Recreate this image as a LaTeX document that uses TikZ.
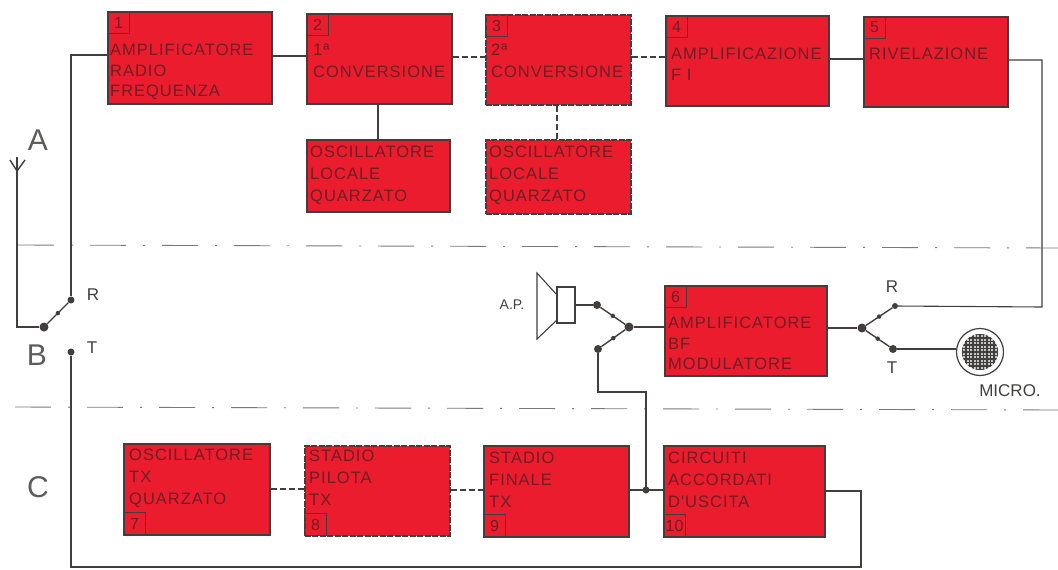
\documentclass[tikz,border=0pt]{standalone}
\usepackage{fontspec}
\setmainfont{Liberation Sans}
\newfontfamily\blockfont[LetterSpace=6]{Liberation Sans}
\usetikzlibrary{calc}
\definecolor{blockred}{RGB}{234,28,46}
\definecolor{inkgrey}{RGB}{66,62,62}
\definecolor{blockink}{RGB}{110,30,36}
\tikzset{
  block/.style={draw=inkgrey,line width=1.5pt,fill=blockred,anchor=north west,inner sep=0pt},
  dashblock/.style={block,dash pattern=on 6pt off 1.5pt},
  blocktext/.style={anchor=north west,inner sep=0pt,align=left,text=blockink,font=\blockfont\fontsize{16.5}{20.5}\selectfont},
  tallblocktext/.style={blocktext,font=\blockfont\fontsize{16.5}{22}\selectfont},
  numbox/.style={draw=inkgrey,line width=1.1pt,minimum width=22pt,minimum height=22pt,inner sep=0pt,anchor=north west,text=blockink,font=\fontsize{16}{16}\selectfont},
  wire/.style={draw=inkgrey,line width=1.1pt},
  dashwire/.style={wire,dash pattern=on 6pt off 3pt},
  contact/.style={circle,fill=inkgrey,minimum size=8pt,inner sep=0pt},
  blob/.style={circle,fill=inkgrey,minimum size=4.5pt,inner sep=0pt},
  arm/.style={draw=inkgrey,line width=1.4pt},
  zoneline/.style={draw=inkgrey!70,line width=.9pt,dash pattern=on 36pt off 17pt on 2pt off 17pt},
  zonelabel/.style={text=inkgrey!85,font=\fontsize{30}{30}\selectfont,inner sep=0pt},
  smalllabel/.style={text=inkgrey,font=\fontsize{17}{17}\selectfont,inner sep=0pt}
}
\begin{document}
\begin{tikzpicture}[x=1pt,y=-1pt]
    \useasboundingbox (0,0) rectangle (1058,570);
    % zone lines
    \draw[zoneline] (18,245) -- (1058,248);
    \draw[zoneline] (15,407) -- (1058,410);
    \node[zonelabel] (zonea) at (38,140) {A};
    \node[zonelabel] (zoneb) at (37,355) {B};
    \node[zonelabel] (zonec) at (38,487) {C};
    % receiver row
    \node[block,minimum width=164pt,minimum height=92pt] (radio) at (107,11) {};
    \node[block,minimum width=145pt,minimum height=90pt] (conva) at (306,13) {};
    \node[dashblock,minimum width=145pt,minimum height=90pt] (convb) at (485,14) {};
    \node[block,minimum width=163pt,minimum height=90pt] (ampfi) at (665,15) {};
    \node[block,minimum width=144pt,minimum height=90pt] (rivel) at (863,16) {};
    \node[block,minimum width=143pt,minimum height=72pt] (oscb) at (306,139) {};
    \node[dashblock,minimum width=145pt,minimum height=74pt] (oscc) at (485,139) {};
    % audio block
    \node[block,minimum width=162pt,minimum height=90pt] (ampbf) at (664,285) {};
    % transmitter row
    \node[block,minimum width=146pt,minimum height=91pt] (osctx) at (123,443) {};
    \node[dashblock,minimum width=145pt,minimum height=90pt] (pilota) at (304,445) {};
    \node[block,minimum width=145pt,minimum height=91pt] (finale) at (483,445) {};
    \node[block,minimum width=161pt,minimum height=91pt] (uscita) at (663,445) {};
    % numbers
    \node[numbox] (numa) at (107,11) {1};
    \node[numbox] (numb) at (306,13) {2};
    \node[numbox] (numc) at (485,14) {3};
    \node[numbox] (numd) at (665,15) {4};
    \node[numbox] (nume) at (863,16) {5};
    \node[numbox] (numf) at (664,285) {6};
    \node[numbox] (numg) at (123,512) {7};
    \node[numbox] (numh) at (304,513) {8};
    \node[numbox] (numi) at (483,514) {9};
    \node[numbox] (numj) at (663,514) {10};
    % block texts
    \node[blocktext] (radiotext) at (110,44) {AMPLIFICATORE\\RADIO\\FREQUENZA};
    \node[tallblocktext] (convatext) at (313,44) {1ª\\CONVERSIONE};
    \node[tallblocktext] (convbtext) at (491,44) {2ª\\CONVERSIONE};
    \node[blocktext] (ampfitext) at (671,48) {AMPLIFICAZIONE\\F I};
    \node[blocktext] (riveltext) at (869,48) {RIVELAZIONE};
    \node[tallblocktext] (oscbtext) at (310,146) {OSCILLATORE\\LOCALE\\QUARZATO};
    \node[tallblocktext] (oscctext) at (489,146) {OSCILLATORE\\LOCALE\\QUARZATO};
    \node[blocktext] (ampbftext) at (668,317) {AMPLIFICATORE\\BF\\MODULATORE};
    \node[tallblocktext] (osctxtext) at (129,449) {OSCILLATORE\\TX\\QUARZATO};
    \node[tallblocktext] (pilotatext) at (309,450) {STADIO\\PILOTA\\TX};
    \node[tallblocktext] (finaletext) at (489,452) {STADIO\\FINALE\\TX};
    \node[tallblocktext] (uscitatext) at (668,452) {CIRCUITI\\ACCORDATI\\D'USCITA};
    % links between blocks
    \draw[wire] (radio.east |- 0,56) -- (conva.west |- 0,56);
    \draw[dashwire] (conva.east |- 0,57) -- (convb.west |- 0,57);
    \draw[dashwire] (convb.east |- 0,57) -- (ampfi.west |- 0,57);
    \draw[wire] (ampfi.east |- 0,59) -- (rivel.west |- 0,59);
    \draw[wire,line width=1.4pt] (conva.south -| 378,0) -- (oscb.north -| 378,0);
    \draw[dashwire,line width=1.4pt] (convb.south -| 557,0) -- (oscc.north -| 557,0);
    \draw[dashwire] (osctx.east |- 0,489) -- (pilota.west |- 0,489);
    \draw[dashwire] (pilota.east |- 0,490) -- (finale.west |- 0,490);
    % switch at the antenna
    \coordinate (antfoot) at (17,327);
    \coordinate (anttop) at (17,157);
    \coordinate (antl) at (10,160);
    \coordinate (antr) at (25,160);
    \coordinate (antmid) at (17,171);
    \node[contact,minimum size=9pt] (swant) at (44,327) {};
    \node[contact,minimum size=7pt] (swantr) at (71,300) {};
    \node[contact,minimum size=7pt] (swantt) at (71,352) {};
    \draw[wire] (anttop) -- (antfoot) -- (swant);
    \draw[wire,line width=1.4pt] (antl) -- (antmid) -- (antr);
    \draw[arm] (swant) -- (swantr) node[blob,midway] {};
    \draw[wire] (swantr) |- (radio.west |- 0,55);
    \node[smalllabel] (labr) at (93,295) {R};
    \node[smalllabel] (labt) at (92,348) {T};
    % loudspeaker
    \node[draw=inkgrey,line width=1.1pt,minimum width=18pt,minimum height=36pt,inner sep=0pt] (coil) at (566,305) {};
    \draw[wire] (557,295) -- (537,273) -- (537,339) -- (557,320);
    \draw[wire] (557,295) -- (557,320);
    \node[smalllabel,font=\fontsize{14}{14}\selectfont] (ap) at (512,305) {A.P.};
    % switch before the audio block
    \node[contact] (swspk) at (597,305) {};
    \node[contact] (swtx) at (598,349) {};
    \node[contact,minimum size=9pt] (swin) at (629,327) {};
    \draw[wire] (coil.east) -- (swspk);
    \draw[arm] (swin) -- (swspk) node[blob,midway] {};
    \draw[arm] (swin) -- (swtx) node[blob,midway] {};
    \draw[wire] (swin) -- (ampbf.west |- swin);
    % switch after the audio block
    \node[contact,minimum size=9pt] (swout) at (862,328) {};
    \node[contact,minimum size=6pt] (swoutr) at (895,306) {};
    \node[contact] (swoutt) at (893,349) {};
    \draw[wire] (ampbf.east |- swout) -- (swout);
    \draw[arm] (swout) -- (swoutr) node[blob,midway] {};
    \draw[arm] (swout) -- (swoutt) node[blob,midway] {};
    \node[smalllabel] (labor) at (892,287) {R};
    \node[smalllabel] (labot) at (892,368) {T};
    \draw[wire] (rivel.east |- 0,60) -| (1042,307) -- (swoutr);
    % microphone
    \node[circle,draw=inkgrey,line width=1.2pt,fill=white,minimum size=47pt,inner sep=0pt] (micro) at (980,352) {};
    \begin{scope}
        \clip (micro) circle (18pt);
        \fill[inkgrey!30] (micro) circle (18pt);
        \foreach \k in {-17.5,-14,...,17.5} {
            \draw[inkgrey,line width=1.2pt] (980+\k,334) -- (980+\k,370);
            \draw[inkgrey,line width=1.2pt] (962,352+\k) -- (998,352+\k);
        }
    \end{scope}
    \draw[wire] (swoutt) -- (micro.west |- swoutt);
    \node[smalllabel] (micname) at (1010,391) {MICRO.};
    % modulation feed and output loop
    \coordinate (feed) at (646,490);
    \draw[wire] (swtx) |- (646,392) -- (feed);
    \draw[wire] (finale.east |- feed) -- (uscita.west |- feed);
    \node[blob,minimum size=7pt] (feeddot) at (feed) {};
    \coordinate (outcorner) at (861,491);
    \coordinate (outfoot) at (861,567);
    \coordinate (txfoot) at (71,567);
    \draw[wire] (uscita.east |- outcorner) -- (outcorner) -- (outfoot) -- (txfoot) -- (swantt);
\end{tikzpicture}
\end{document}
